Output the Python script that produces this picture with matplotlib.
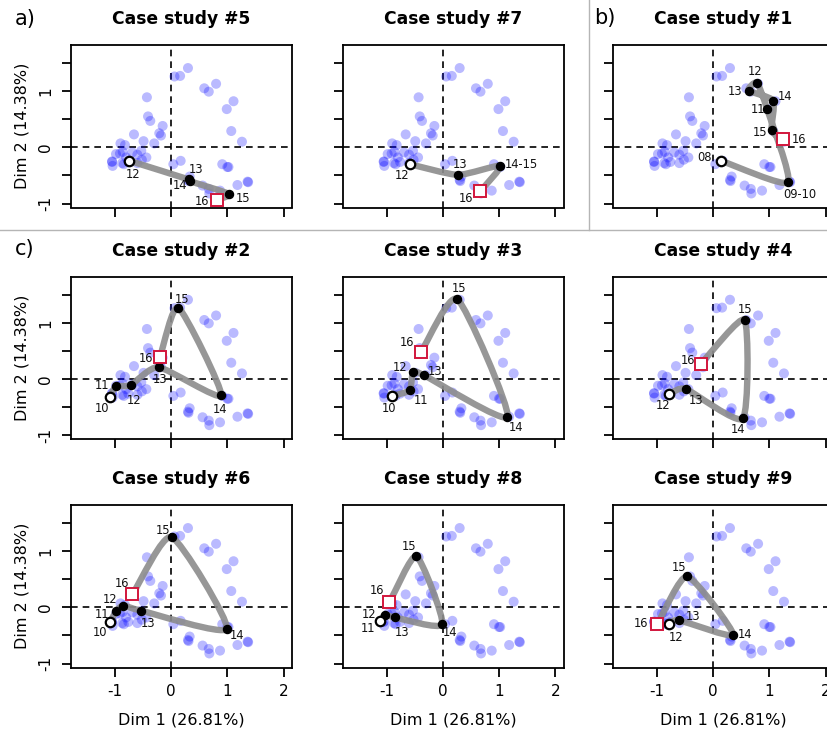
import numpy as np
import matplotlib
matplotlib.use("Agg")
import matplotlib.pyplot as plt
from matplotlib.path import Path
from matplotlib.patches import PathPatch
from matplotlib.lines import Line2D

# ---------------- data ----------------
# background (all observations), same in every panel
bg_x = [0.30, 0.06, 0.16, 0.59, 0.67, 0.80, 1.11, 0.99, 1.07, 1.26,
        0.04, 0.17, 0.33, 0.30, 0.31, 0.56, 0.67, 0.68, 0.87, 0.91, 1.00, 1.02, 1.18, 1.36, 1.37,
        -0.43, -0.41, -0.37, -0.15, -0.21, -0.18, -0.30, -0.49, -0.66,
        -0.90, -0.82, -0.98, -0.91, -0.86, -1.05, -1.04, -1.05, -0.87, -0.84, -0.80, -0.76,
        -0.60, -0.53, -0.44, -0.69, -0.60, -0.52]
bg_y = [1.41, 1.26, 1.27, 1.05, 0.99, 1.13, 0.82, 0.68, 0.29, 0.10,
        -0.30, -0.24, -0.52, -0.58, -0.60, -0.68, -0.74, -0.82, -0.77, -0.30, -0.35, -0.35, -0.67, -0.61, -0.62,
        0.89, 0.55, 0.47, 0.38, 0.25, 0.21, 0.07, 0.11, 0.23,
        0.07, 0.04, -0.12, -0.11, -0.08, -0.25, -0.33, -0.26, -0.28, -0.30, -0.18, -0.26,
        -0.13, -0.06, -0.18, -0.09, -0.28, -0.22]

case5_labels = ["12", "13", "14", "15", "16"]
case5_x = [-0.74, 0.31, 0.33, 1.03, 0.81]
case5_y = [-0.24, -0.57, -0.60, -0.83, -0.94]

case7_labels = ["12", "13", "14-15", "16"]
case7_x = [-0.59, 0.27, 1.02, 0.67]
case7_y = [-0.30, -0.49, -0.33, -0.78]

case1_labels = ["08", "09-10", "11", "12", "13", "14", "15", "16"]
case1_x = [0.14, 1.33, 0.96, 0.78, 0.63, 1.07, 1.04, 1.24]
case1_y = [-0.24, -0.62, 0.68, 1.15, 1.01, 0.83, 0.30, 0.14]

case2_labels = ["10", "11", "12", "13", "14", "15", "16"]
case2_x = [-1.09, -0.98, -0.72, -0.22, 0.89, 0.13, -0.20]
case2_y = [-0.32, -0.13, -0.11, 0.21, -0.29, 1.27, 0.39]

case3_labels = ["10", "11", "12", "13", "14", "15", "16"]
case3_x = [-0.90, -0.59, -0.53, -0.34, 1.15, 0.26, -0.39]
case3_y = [-0.30, -0.20, 0.12, 0.07, -0.67, 1.42, 0.48]

case4_labels = ["12", "13", "14", "15", "16"]
case4_x = [-0.78, -0.48, 0.53, 0.56, -0.22]
case4_y = [-0.26, -0.18, -0.70, 1.05, 0.27]

case6_labels = ["10", "11", "12", "13", "14", "15", "16"]
case6_x = [-1.08, -0.98, -0.85, -0.53, 0.99, 0.01, -0.69]
case6_y = [-0.26, -0.07, 0.03, -0.06, -0.38, 1.25, 0.23]

case8_labels = ["11", "12", "13", "14", "15", "16"]
case8_x = [-1.11, -1.03, -0.85, -0.01, -0.47, -0.95]
case8_y = [-0.25, -0.13, -0.18, -0.30, 0.91, 0.09]

case9_labels = ["12", "13", "14", "15", "16"]
case9_x = [-0.79, -0.61, 0.36, -0.46, -0.99]
case9_y = [-0.30, -0.23, -0.49, 0.55, -0.29]

x_ticks = [-1, 0, 1, 2]
x_ticklabels = ["-1", "0", "1", "2"]
y_ticks = [-1, -0.5, 0, 0.5, 1, 1.5]
y_ticklabels = ["-1", "", "0", "", "1", ""]
x_title = "Dim 1 (26.81%)"
y_title = "Dim 2 (14.38%)"

# ---------------- label placement (pixel offsets, styling only) ----------------
case5_off = [(4, -14), (8, 10), (-10, -4), (14, -4), (-15, -1)]
case7_off = [(-8, -11), (2, 10), (21, 1), (-14, -7)]
case1_off = [(-16, 3), (12, -12), (-9, 0), (-2, 11), (-13, -1), (12, 4), (-11, -2), (16, 0)]
case2_off = [(-8, -11), (-14, 1), (3, -15), (1, -12), (-1, -14), (4, 8), (-14, -1)]
case3_off = [(-3, -13), (11, -10), (-13, 5), (11, 4), (9, -11), (2, 11), (-14, 10)]
case4_off = [(-6, -12), (10, -11), (-5, -11), (1, 10), (-13, 3)]
case6_off = [(-10, -11), (-14, -3), (-13, 6), (7, -13), (10, -7), (-9, 7), (-10, 11)]
case8_off = [(-12, -7), (-16, 0), (7, -15), (8, -8), (-7, 10), (-12, 12)]
case9_off = [(7, -13), (14, 4), (12, 0), (-8, 9), (-16, 0)]

# ---------------- figure ----------------
W, H = 828, 733
fig = plt.figure(figsize=(W / 100, H / 100), dpi=100)
plt.rcParams["font.family"] = ["DejaVu Sans"]

col_left = [71, 342.7, 613]
row_top = [45, 276.7, 505]
ax_w, ax_h = 221, 162.5
XLIM = (-1.78, 2.15)
YLIM = (-1.07, 1.82)

panels = [
    (0, 0, "Case study #5", case5_labels, case5_x, case5_y, case5_off),
    (0, 1, "Case study #7", case7_labels, case7_x, case7_y, case7_off),
    (0, 2, "Case study #1", case1_labels, case1_x, case1_y, case1_off),
    (1, 0, "Case study #2", case2_labels, case2_x, case2_y, case2_off),
    (1, 1, "Case study #3", case3_labels, case3_x, case3_y, case3_off),
    (1, 2, "Case study #4", case4_labels, case4_x, case4_y, case4_off),
    (2, 0, "Case study #6", case6_labels, case6_x, case6_y, case6_off),
    (2, 1, "Case study #8", case8_labels, case8_x, case8_y, case8_off),
    (2, 2, "Case study #9", case9_labels, case9_x, case9_y, case9_off),
]


def smooth_path(xs, ys, tension=0.6):
    P = np.column_stack([xs, ys]).astype(float)
    n = len(P)
    T = np.zeros_like(P)
    for i in range(n):
        if i == 0:
            T[i] = P[1] - P[0]
        elif i == n - 1:
            T[i] = P[-1] - P[-2]
        else:
            T[i] = (P[i + 1] - P[i - 1]) / 2.0
    T *= tension
    verts = [P[0]]
    codes = [Path.MOVETO]
    for i in range(n - 1):
        verts += [P[i] + T[i] / 3.0, P[i + 1] - T[i + 1] / 3.0, P[i + 1]]
        codes += [Path.CURVE4] * 3
    return Path(verts, codes)


def px2fig(left, top, w, h):
    return [left / W, 1 - (top + h) / H, w / W, h / H]


for (r, c, title, labs, xs, ys, offs) in panels:
    L, T0 = col_left[c], row_top[r]
    ax = fig.add_axes(px2fig(L, T0, ax_w, ax_h))
    ax.set_xlim(*XLIM)
    ax.set_ylim(*YLIM)
    for s in ax.spines.values():
        s.set_linewidth(1.3)
    ax.tick_params(direction="out", length=6.8, width=1.3, labelsize=11, pad=5)
    ax.set_xticks(x_ticks)
    ax.set_yticks(y_ticks)
    if r == 2:
        ax.set_xticklabels(x_ticklabels)
    else:
        ax.set_xticklabels([""] * len(x_ticks))
    if c == 0:
        ax.set_yticklabels(y_ticklabels)
        for t in ax.get_yticklabels():
            t.set_rotation(90)
            t.set_va("center")
            t.set_ha("right")
    else:
        ax.set_yticklabels([""] * len(y_ticks))
    ax.tick_params(axis="y", pad=6)

    ax.axhline(0, color="black", lw=1.2, dashes=(4, 3), zorder=1)
    ax.axvline(0, color="black", lw=1.2, dashes=(4, 3), zorder=1)

    ax.scatter(bg_x, bg_y, s=52, color="blue", alpha=0.27, edgecolors="none", zorder=2)

    path = smooth_path(xs, ys)
    ax.add_patch(PathPatch(path, facecolor="none", edgecolor="#8c8c8c", lw=4.6,
                           alpha=0.9, capstyle="round", joinstyle="round", zorder=3))

    # intermediate points
    ax.plot(xs[1:-1], ys[1:-1], "o", color="black", ms=5.8, zorder=4, ls="none")
    # start point
    ax.plot(xs[0], ys[0], "o", mfc="white", mec="black", mew=1.6, ms=6.8, zorder=5)
    # end point
    ax.plot(xs[-1], ys[-1], "s", mfc="white", mec="#d2163c", mew=1.4, ms=8, zorder=5)

    for lab, x, y, (dx, dy) in zip(labs, xs, ys, offs):
        ax.annotate(lab, xy=(x, y), xytext=(dx, dy), textcoords="offset pixels",
                    ha="center", va="center", fontsize=8.3, color="#111111", zorder=6)

    fig.text((L + ax_w / 2) / W, 1 - (T0 - 26) / H, title, ha="center", va="center",
             fontsize=12.3, fontweight="bold")
    if c == 0:
        fig.text(22 / W, 1 - (T0 + ax_h / 2) / H, y_title, rotation=90,
                 ha="center", va="center", fontsize=11.5)
    if r == 2:
        fig.text((L + ax_w / 2) / W, 1 - 720 / H, x_title, ha="center", va="center",
                 fontsize=11.5)

# panel letters
fig.text(25 / W, 1 - 19 / H, "a)", ha="center", va="center", fontsize=15)
fig.text(605 / W, 1 - 18 / H, "b)", ha="center", va="center", fontsize=15)
fig.text(25 / W, 1 - 249 / H, "c)", ha="center", va="center", fontsize=15)

# separators
fig.add_artist(Line2D([0, 1], [1 - 230 / H, 1 - 230 / H], color="#b5b5b5", lw=1.0,
                      transform=fig.transFigure))
fig.add_artist(Line2D([588.7 / W, 588.7 / W], [1 - 230 / H, 1], color="#b5b5b5", lw=1.0,
                      transform=fig.transFigure))

fig.savefig("out.png", dpi=100)
